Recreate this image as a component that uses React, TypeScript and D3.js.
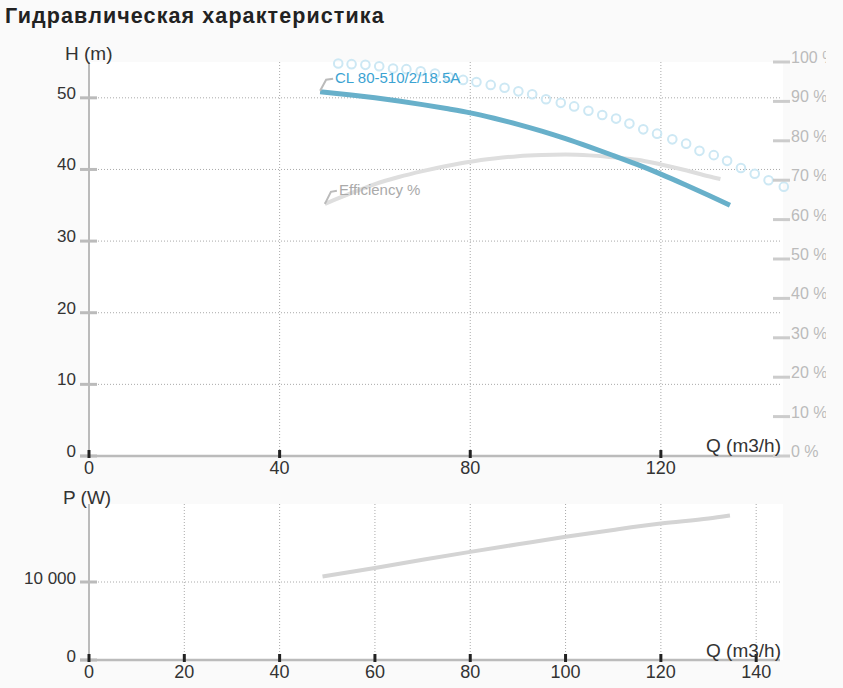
import React from "react"
import * as d3 from "d3"

// H(Q) curve of the pump
const qHead = [48.5, 55, 60, 65, 70, 75, 80, 85, 90, 95, 100, 105, 110, 115, 120, 125, 130, 134.5]
const head = [50.85, 50.4, 50.0, 49.55, 49.05, 48.5, 47.9, 47.15, 46.3, 45.35, 44.3, 43.15, 41.95, 40.7, 39.35, 37.9, 36.4, 35.0]

// efficiency curve (%)
const qEff = [49.5, 55, 60, 65, 70, 75, 80, 85, 90, 95, 100, 105, 110, 115, 120, 125, 130, 132.5]
const eff = [64.0, 66.7, 69.0, 70.8, 72.3, 73.6, 74.7, 75.5, 76.1, 76.4, 76.5, 76.3, 75.8, 75.2, 74.0, 72.6, 71.0, 70.3]

// circle markers (upper curve)
const qDots = [52.3, 55.1, 58.0, 60.9, 63.8, 66.6, 69.6, 72.6, 75.5, 78.5, 81.3, 84.3, 87.2, 90.1, 93.0, 95.9, 99.0, 101.8, 104.8, 107.7, 110.6, 113.4, 116.3, 119.2, 122.4, 125.3, 128.1, 131.1, 133.9, 136.8, 139.7, 142.6, 145.8]
const hDots = [54.8, 54.7, 54.6, 54.4, 54.1, 54.0, 53.7, 53.4, 52.9, 52.5, 52.2, 51.8, 51.4, 50.9, 50.5, 49.8, 49.3, 48.8, 48.2, 47.6, 47.1, 46.4, 45.6, 45.0, 44.2, 43.6, 42.6, 42.0, 41.2, 40.2, 39.4, 38.5, 37.6]

// power curve (W)
const qPow = [49, 60, 70, 80, 90, 100, 110, 120, 130, 134.5]
const power = [10700, 11800, 12850, 13860, 14830, 15790, 16680, 17500, 18150, 18530]

const hTicks = [0, 10, 20, 30, 40, 50]
const effTicks = [0, 10, 20, 30, 40, 50, 60, 70, 80, 90, 100]
const qTicksTop = [0, 40, 80, 120]
const qTicksBottom = [0, 20, 40, 60, 80, 100, 120, 140]
const pTicks = [0, 10000]

const FONT = "'Liberation Sans', Arial, sans-serif"
const GRID = "#aaa"
const AXIS = "#bbb"

const fmtP = (v: number) => (v === 0 ? "0" : d3.format(",")(v).replace(/,/g, " "))

export default function App() {
  const left = 89
  const right = 780
  const x = d3.scaleLinear().domain([0, 145]).range([left, right])

  const top1 = 62
  const bottom1 = 456
  const yH = d3.scaleLinear().domain([0, 55]).range([bottom1, top1])
  const yEff = d3.scaleLinear().domain([0, 100]).range([bottom1, top1])

  const top2 = 504
  const bottom2 = 660
  const yP = d3.scaleLinear().domain([0, 20000]).range([bottom2, top2])

  const headLine = d3
    .line<number>()
    .x((_, i) => x(qHead[i]))
    .y((d) => yH(d))
    .curve(d3.curveMonotoneX)
  const effLine = d3
    .line<number>()
    .x((_, i) => x(qEff[i]))
    .y((d) => yEff(d))
    .curve(d3.curveMonotoneX)
  const powLine = d3
    .line<number>()
    .x((_, i) => x(qPow[i]))
    .y((d) => yP(d))
    .curve(d3.curveMonotoneX)

  // label connectors start at the first point of each curve
  const hx0 = x(qHead[0])
  const hy0 = yH(head[0])
  const ex0 = x(qEff[0])
  const ey0 = yEff(eff[0])

  return (
    <>
      <style>{`body{margin:0}`}</style>
      <svg width={843} height={688} style={{ display: "block", fontFamily: FONT }}>
        <defs>
          <clipPath id="rightLabels">
            <rect x={760} y={0} width={66} height={688} />
          </clipPath>
        </defs>
        <rect width={843} height={688} fill="#fafafa" />
        <rect x={left} y={top1} width={right + 3 - left} height={bottom1 - top1} fill="#fff" />
        <rect x={left} y={top2} width={right + 3 - left} height={bottom2 - top2} fill="#fff" />

        <text x={5} y={23} fontSize={21.5} fontWeight="bold" fill="#222" letterSpacing={1.1}>
          Гидравлическая характеристика
        </text>

        {/* ---------- top chart ---------- */}
        {hTicks
          .filter((t) => t > 0)
          .map((t) => (
            <line key={"hg" + t} x1={left} x2={right + 2} y1={yH(t)} y2={yH(t)} stroke={GRID} strokeDasharray="1,2" />
          ))}
        {qTicksTop
          .filter((t) => t > 0)
          .map((t) => (
            <line key={"qg" + t} x1={x(t)} x2={x(t)} y1={top1} y2={bottom1} stroke={GRID} strokeDasharray="1,2" />
          ))}

        <path d={effLine(eff) || ""} fill="none" stroke="#dedede" strokeWidth={4} />
        <path d={headLine(head) || ""} fill="none" stroke="#68b0ca" strokeWidth={5} />
        {hDots.map((d, i) => (
          <circle key={"c" + i} cx={x(qDots[i])} cy={yH(d)} r={4.3} fill="none" stroke="#cde8f4" strokeWidth={2} />
        ))}

        <path
          d={`M${hx0},${hy0 - 1}L${hx0 + 6},${hy0 - 12}L${hx0 + 13},${hy0 - 13}`}
          fill="none"
          stroke="#bbb"
          strokeWidth={2}
        />
        <text x={335} y={83} fontSize={15} fill="#3ba3d2">
          CL 80-510/2/18.5A
        </text>
        <path
          d={`M${ex0},${ey0}L${ex0 + 6},${ey0 - 12}L${ex0 + 12},${ey0 - 13}`}
          fill="none"
          stroke="#bbb"
          strokeWidth={2}
        />
        <text x={339} y={195} fontSize={15} fill="#aaa">
          Efficiency %
        </text>

        <line x1={left} x2={left} y1={top1} y2={bottom1} stroke={AXIS} strokeWidth={2} />
        <line x1={80} x2={right} y1={bottom1} y2={bottom1} stroke={AXIS} strokeWidth={2.5} />
        {hTicks.map((t) => (
          <g key={"ht" + t}>
            <line x1={80} x2={97} y1={yH(t)} y2={yH(t)} stroke={AXIS} strokeWidth={3} />
            <text x={76} y={yH(t) + 1} fontSize={17} fill="#333" textAnchor="end">
              {t}
            </text>
          </g>
        ))}
        {qTicksTop.map((t) => (
          <g key={"qt" + t}>
            <line x1={x(t)} x2={x(t)} y1={bottom1 - 6} y2={bottom1 + 2} stroke="#222" strokeWidth={3} />
            <text x={x(t)} y={bottom1 + 18} fontSize={18} fill="#333" textAnchor="middle">
              {t}
            </text>
          </g>
        ))}
        <g clipPath="url(#rightLabels)">
          {effTicks.map((t) => (
            <g key={"et" + t}>
              <line x1={773} x2={790} y1={yEff(t)} y2={yEff(t)} stroke="#ccc" strokeWidth={3} />
              <text x={791} y={yEff(t) + 1} fontSize={16} fill="#bbb">
                {t} %
              </text>
            </g>
          ))}
        </g>
        <text x={65} y={60} fontSize={19} fill="#333">
          H (m)
        </text>
        <text x={781} y={bottom1 - 4} fontSize={19} fill="#333" textAnchor="end">
          Q (m3/h)
        </text>

        {/* ---------- bottom chart ---------- */}
        {pTicks
          .filter((t) => t > 0)
          .map((t) => (
            <line key={"pg" + t} x1={left} x2={right + 2} y1={yP(t)} y2={yP(t)} stroke={GRID} strokeDasharray="1,2" />
          ))}
        {qTicksBottom
          .filter((t) => t > 0)
          .map((t) => (
            <line key={"qg2" + t} x1={x(t)} x2={x(t)} y1={top2} y2={bottom2} stroke={GRID} strokeDasharray="1,2" />
          ))}
        <path d={powLine(power) || ""} fill="none" stroke="#d4d4d4" strokeWidth={4} />

        <line x1={left} x2={left} y1={top2} y2={bottom2} stroke={AXIS} strokeWidth={2} />
        <line x1={80} x2={right} y1={bottom2} y2={bottom2} stroke={AXIS} strokeWidth={2.5} />
        {pTicks.map((t) => (
          <g key={"pt" + t}>
            <line x1={80} x2={97} y1={yP(t)} y2={yP(t)} stroke={AXIS} strokeWidth={3} />
            <text x={76} y={yP(t) + 2} fontSize={17} fill="#333" textAnchor="end">
              {fmtP(t)}
            </text>
          </g>
        ))}
        {qTicksBottom.map((t) => (
          <g key={"qb" + t}>
            <line x1={x(t)} x2={x(t)} y1={bottom2 - 6} y2={bottom2 + 2} stroke="#222" strokeWidth={3} />
            <text x={x(t)} y={bottom2 + 18} fontSize={18} fill="#333" textAnchor="middle">
              {t}
            </text>
          </g>
        ))}
        <text x={63} y={504} fontSize={19} fill="#333">
          P (W)
        </text>
        <text x={781} y={bottom2 - 3} fontSize={19} fill="#333" textAnchor="end">
          Q (m3/h)
        </text>
      </svg>
    </>
  )
}
